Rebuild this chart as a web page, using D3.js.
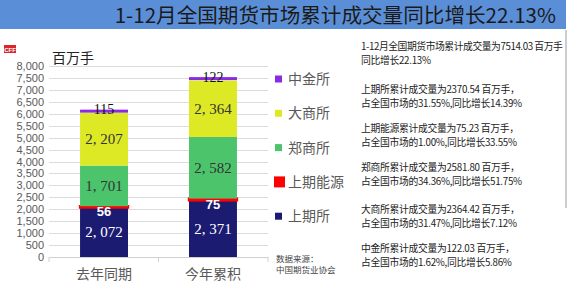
<!DOCTYPE html>
<html>
<head>
<meta charset="utf-8">
<script src="https://cdn.jsdelivr.net/npm/d3@7"></script>
<style>
  body { margin: 0; background: #fff; }
  svg { display: block; }
</style>
</head>
<body>
<svg width="567" height="286"></svg>
<script>
var categories = ["去年同期", "今年累积"];
var exchanges = ["上期所", "上期能源", "郑商所", "大商所", "中金所"];
var shfe = [2072, 2371];
var ine = [56, 75];
var czce = [1701, 2582];
var dce = [2207, 2364];
var cffex = [115, 122];
var yTicks = d3.range(0, 8001, 500);

var notes = [
  ["1-12月全国期货市场累计成交量为7514.03 百万手", "同比增长22.13%"],
  ["上期所累计成交量为2370.54 百万手，", "占全国市场的31.55%,同比增长14.39%"],
  ["上期能源累计成交量为75.23 百万手，", "占全国市场的1.00%,同比增长33.55%"],
  ["郑商所累计成交量为2581.80 百万手，", "占全国市场的34.36%,同比增长51.75%"],
  ["大商所累计成交量为2364.42 百万手，", "占全国市场的31.47%,同比增长7.12%"],
  ["中金所累计成交量为122.03 百万手，", "占全国市场的1.62%,同比增长5.86%"]
];
var noteY = [46, 89, 128, 167, 209, 248];

var colors = {
  "上期所": "#1b1b72",
  "上期能源": "#ff0000",
  "郑商所": "#4cc46c",
  "大商所": "#dde925",
  "中金所": "#8a2be2"
};

var seriesData = [shfe, ine, czce, dce, cffex];
var rows = categories.map(function (c, i) {
  var r = { cat: c };
  exchanges.forEach(function (e, k) { r[e] = seriesData[k][i]; });
  return r;
});

var svg = d3.select("svg");
var sans = "'Noto Sans CJK SC', 'Noto Sans', sans-serif";

// title bar
svg.append("rect").attr("x", 0).attr("y", 0).attr("width", 566).attr("height", 29)
  .attr("fill", "#5a8fd7");
svg.append("text").attr("x", 556).attr("y", 23).attr("text-anchor", "end")
  .attr("font-family", sans).attr("font-size", 20.6).attr("fill", "#1a1a1a")
  .text("1-12月全国期货市场累计成交量同比增长22.13%");

// right divider line
svg.append("line").attr("x1", 566).attr("x2", 566).attr("y1", 30).attr("y2", 208)
  .attr("stroke", "#9a9a9a").attr("stroke-width", 1);

var x = d3.scaleBand().domain(categories).range([49, 268]).paddingInner(0.56).paddingOuter(0.285);
var y = d3.scaleLinear().domain([0, 8000]).range([257, 66]);

// grid
svg.append("g").selectAll("line").data(yTicks.slice(1)).enter().append("line")
  .attr("x1", 49).attr("x2", 268)
  .attr("y1", function (d) { return Math.round(y(d)) + 0.5; })
  .attr("y2", function (d) { return Math.round(y(d)) + 0.5; })
  .attr("stroke", "#dcdcdc");

// y axis
var yAxis = svg.append("g").attr("transform", "translate(44,0)")
  .call(d3.axisLeft(y).tickValues(yTicks).tickSize(0).tickPadding(0).tickFormat(d3.format(",")));
yAxis.select(".domain").remove();
yAxis.selectAll("text").attr("font-family", "'Liberation Sans', Arial, sans-serif")
  .attr("font-size", 11).attr("fill", "#595959");

// x axis
var xAxis = svg.append("g").attr("transform", "translate(0,257)")
  .call(d3.axisBottom(x).tickSize(0).tickPadding(12));
xAxis.select(".domain").attr("stroke", "#d0d0d0");
xAxis.selectAll("text").attr("font-family", sans).attr("font-size", 14).attr("fill", "#595959");
svg.append("g").selectAll("line").data([49, 158.5, 268]).enter().append("line")
  .attr("x1", function (d) { return d; }).attr("x2", function (d) { return d; })
  .attr("y1", 257).attr("y2", 262).attr("stroke", "#d0d0d0");

svg.append("text").attr("x", 52).attr("y", 63).attr("font-family", sans)
  .attr("font-size", 14).attr("fill", "#222").text("百万手");

// small logo
svg.append("rect").attr("x", 4).attr("y", 45).attr("width", 12).attr("height", 8).attr("fill", "#d9262b");
svg.append("text").attr("x", 10).attr("y", 51.5).attr("text-anchor", "middle")
  .attr("font-family", "'Liberation Sans', sans-serif").attr("font-size", 6).attr("font-weight", "bold")
  .attr("fill", "#fff").text("CFF");

// stacks
var stacked = d3.stack().keys(exchanges)(rows);
var layers = svg.append("g").selectAll("g").data(stacked).enter().append("g")
  .attr("fill", function (d) { return colors[d.key]; });

layers.selectAll("rect").data(function (d) { return d.map(function (p) { p.key = d.key; return p; }); })
  .enter().append("rect")
  .attr("x", function (d) { return x(d.data.cat); })
  .attr("width", x.bandwidth())
  .attr("y", function (d) { return y(d[1]); })
  .attr("height", function (d) { return y(d[0]) - y(d[1]); })
  .attr("stroke", function (d) { return d.key === "上期能源" ? colors[d.key] : "none"; })
  .attr("stroke-width", function (d) { return d.key === "上期能源" ? 2.4 : 0; })
  .each(function (d) {
    if (d.key === "中金所") {
      d3.select(this).attr("y", y(d[1]) - 0.5).attr("height", Math.max(3, y(d[0]) - y(d[1])));
    }
  });

var fmt = function (v) { return d3.format(",")(v).replace(",", ", "); };
stacked.forEach(function (layer) {
  layer.forEach(function (p) {
    var cx = x(p.data.cat) + x.bandwidth() / 2;
    var v = p.data[layer.key];
    var t = svg.append("text").attr("x", cx).attr("text-anchor", "middle").text(fmt(v));
    if (layer.key === "上期能源") {
      t.attr("y", y(p[1]) + 10).attr("font-family", "'Liberation Sans', Arial, sans-serif")
        .attr("font-size", 13).attr("font-weight", "bold").attr("fill", "#fff");
    } else if (layer.key === "中金所") {
      t.attr("y", y(p[1]) + 4).attr("font-family", "'Liberation Serif', serif")
        .attr("font-size", 14).attr("fill", "#111");
    } else {
      t.attr("y", (y(p[0]) + y(p[1])) / 2 + 5).attr("font-family", "'Liberation Serif', serif")
        .attr("font-size", 15).attr("fill", layer.key === "上期所" ? "#fff" : "#333");
    }
  });
});

// legend
var legendItems = exchanges.slice().reverse();
var legend = svg.append("g").selectAll("g").data(legendItems).enter().append("g")
  .attr("transform", function (d, i) { return "translate(275," + (79 + i * 34.3) + ")"; });
legend.append("rect")
  .attr("x", function (d) { return d === "上期能源" ? -1 : 0; })
  .attr("y", function (d) { return d === "上期能源" ? -5.5 : -3.5; })
  .attr("width", function (d) { return d === "上期能源" ? 11 : 7; })
  .attr("height", function (d) { return d === "上期能源" ? 11 : 7; })
  .attr("fill", function (d) { return colors[d]; });
legend.append("text").attr("x", 13).attr("y", 5).attr("font-family", sans)
  .attr("font-size", 14).attr("fill", "#595959").text(function (d) { return d; });

// source
svg.append("text").attr("x", 276).attr("y", 262).attr("font-family", sans)
  .attr("font-size", 8.5).attr("fill", "#444").text("数据来源：");
svg.append("text").attr("x", 276).attr("y", 273).attr("font-family", sans)
  .attr("font-size", 8.5).attr("fill", "#444").text("中国期货业协会");

// notes
var ng = svg.append("g");
notes.forEach(function (pair, i) {
  pair.forEach(function (line, j) {
    ng.append("text").attr("x", 361).attr("y", noteY[i] + 4 + j * 13.5)
      .attr("font-family", sans).attr("font-size", 9.8)
      .attr("letter-spacing", i === 0 && j === 0 ? -0.45 : -0.3)
      .attr("fill", "#222").text(line);
  });
});
</script>
</body>
</html>
